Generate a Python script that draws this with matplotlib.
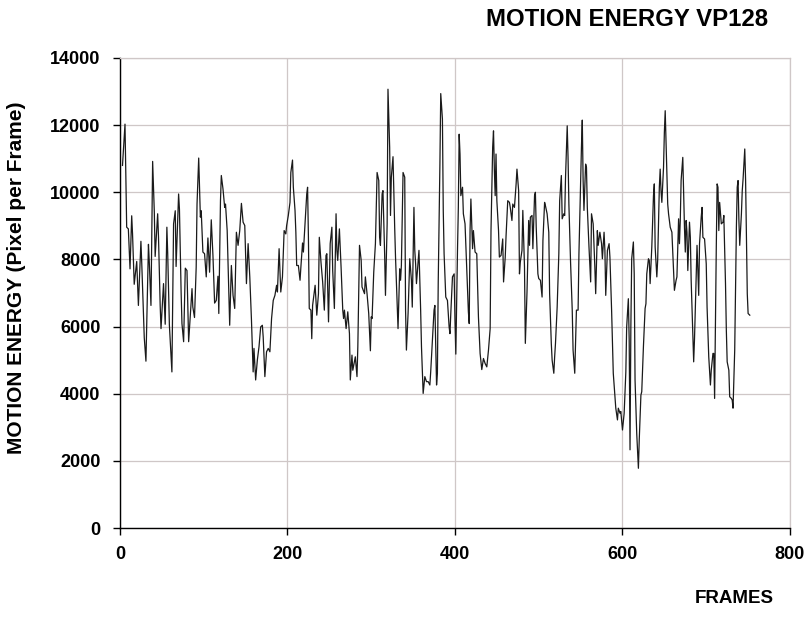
import numpy as np
import matplotlib
matplotlib.use('Agg')
import matplotlib.pyplot as plt

plt.rcParams['font.family'] = ['Liberation Sans', 'DejaVu Sans']

# values (frame, motion energy)
frames = [3, 6, 8, 10, 12, 14, 15, 17, 20, 22, 25, 26, 29, 31, 34, 35, 37, 39, 41, 42,
          45, 46, 48, 49, 52, 54, 56, 57, 59, 62, 64, 66, 67, 70, 71, 73, 74, 76, 78, 80,
          82, 86, 87, 89, 91, 92, 94, 96, 97, 99, 101, 103, 105, 107, 109, 111, 113, 115, 117, 118,
          120, 121, 123, 125, 126, 128, 131, 133, 135, 137, 139, 141, 143, 145, 147, 149, 151, 153, 155, 157,
          159, 160, 162, 164, 166, 168, 170, 171, 173, 175, 177, 179, 181, 183, 185, 187, 188, 190, 192, 194,
          196, 198, 199, 201, 203, 204, 206, 207, 209, 210, 211, 213, 215, 216, 218, 219, 221, 223, 224, 225,
          226, 228, 229, 230, 233, 235, 237, 238, 240, 242, 244, 246, 247, 249, 251, 253, 254, 256, 258, 259,
          260, 262, 264, 266, 267, 268, 270, 272, 274, 275, 277, 278, 281, 283, 284, 286, 288, 289, 292, 293,
          295, 297, 299, 300, 301, 303, 305, 307, 309, 310, 311, 313, 314, 316, 317, 319, 320, 322, 323, 324,
          326, 328, 329, 332, 334, 335, 336, 338, 340, 341, 342, 344, 346, 348, 349, 351, 352, 353, 354, 356,
          357, 359, 360, 362, 364, 366, 368, 370, 371, 373, 375, 376, 378, 379, 380, 382, 383, 385, 386, 387,
          389, 391, 393, 394, 395, 397, 399, 400, 401, 403, 404, 405, 406, 407, 409, 410, 412, 414, 416, 417,
          418, 419, 421, 422, 424, 426, 428, 430, 432, 434, 436, 438, 440, 442, 443, 445, 446, 447, 448, 449,
          450, 452, 453, 455, 457, 458, 460, 461, 463, 465, 466, 468, 469, 471, 473, 474, 476, 477, 478, 480,
          481, 483, 484, 486, 488, 489, 490, 492, 493, 495, 496, 497, 499, 500, 502, 504, 505, 507, 508, 510,
          512, 513, 515, 516, 518, 519, 520, 522, 524, 525, 527, 528, 530, 531, 532, 534, 535, 536, 538, 540,
          541, 543, 544, 545, 547, 548, 550, 551, 552, 553, 554, 556, 557, 558, 560, 562, 563, 565, 567, 568,
          570, 571, 573, 575, 576, 578, 579, 580, 582, 584, 585, 587, 589, 590, 592, 594, 595, 597, 598, 600,
          602, 604, 605, 607, 608, 609, 610, 611, 613, 614, 615, 617, 619, 620, 622, 623, 625, 627, 628, 629,
          631, 632, 633, 635, 637, 638, 639, 641, 642, 644, 645, 646, 647, 649, 650, 651, 653, 654, 655, 657,
          659, 661, 662, 664, 665, 667, 668, 669, 670, 672, 673, 674, 675, 676, 677, 678, 680, 681, 682, 684,
          685, 686, 688, 689, 691, 692, 694, 695, 696, 698, 700, 701, 703, 705, 706, 708, 709, 710, 712, 713,
          714, 715, 716, 718, 720, 721, 723, 724, 725, 727, 728, 730, 731, 732, 734, 736, 737, 738, 739, 740,
          742, 743, 744, 746, 747, 748, 749, 750, 752]
energy = [10800, 12030, 8960, 8910, 7720, 9300, 8760, 7260, 7940, 6630, 8540, 7890, 5670, 4970, 8450, 7920, 6630, 10920, 9410, 8090,
          9360, 8660, 6630, 5940, 7280, 6070, 8960, 8170, 6040, 4650, 9060, 9450, 7790, 9950, 9500, 7030, 6090, 5550, 7740, 7670,
          5550, 7130, 6580, 6270, 7770, 9650, 11020, 9260, 9450, 8220, 8170, 7480, 8640, 7620, 9180, 8120, 6700, 6780, 7500, 6390,
          9750, 10500, 10100, 9550, 9650, 8860, 6040, 7820, 6930, 6540, 8810, 8420, 8860, 9670, 9110, 9010, 7280, 8470, 7480, 6190,
          4650, 5350, 4410, 5000, 5400, 5990, 6040, 5690, 4510, 5250, 5350, 5250, 6240, 6780, 6930, 7230, 7030, 8320, 7030, 7480,
          8860, 8760, 9010, 9310, 9700, 10590, 10960, 10150, 9460, 8810, 7820, 7820, 7380, 7770, 8490, 8220, 9060, 9950, 10150, 8660,
          6540, 6490, 5640, 6630, 7230, 6340, 6980, 8660, 7920, 7330, 6490, 8120, 8170, 6140, 8470, 8960, 7670, 6540, 9360, 8270,
          7970, 8910, 7770, 6490, 6240, 6490, 5940, 6440, 5790, 4410, 5150, 4700, 5100, 4510, 5400, 8420, 7970, 7180, 6980, 7480,
          6980, 6390, 5280, 6290, 6240, 7620, 8470, 10590, 10350, 8660, 8420, 9950, 10050, 8170, 6930, 9060, 13070, 11340, 9310, 10450,
          11060, 8960, 8070, 5940, 7720, 7380, 7820, 10590, 10450, 6490, 5300, 6390, 8020, 7380, 6580, 9550, 8270, 7870, 7280, 7970,
          8270, 6490, 5400, 4010, 4510, 4360, 4360, 4260, 4650, 5600, 6490, 6630, 4260, 4600, 7330, 10840, 12940, 12180, 9460, 8170,
          6880, 6780, 5990, 5790, 6390, 7480, 7570, 6190, 5180, 8270, 9550, 11730, 11140, 9900, 10150, 9360, 9060, 7770, 6440, 6090,
          8860, 9800, 8320, 8860, 8220, 8170, 6290, 5200, 4720, 5050, 4900, 4800, 5300, 5940, 8860, 11340, 11830, 10690, 9900, 11140,
          9750, 8860, 8070, 8120, 8610, 7330, 8070, 8710, 9750, 9700, 9550, 9160, 9650, 9550, 10250, 10690, 10050, 7570, 7920, 8270,
          9460, 7770, 5500, 7030, 9160, 8420, 9260, 9310, 8320, 9900, 10000, 8960, 7570, 7430, 7380, 6880, 8560, 9700, 9600, 9360,
          8810, 6980, 5500, 5000, 4610, 5100, 5500, 6580, 8170, 9750, 10500, 9210, 9360, 9310, 10450, 11980, 11040, 9650, 7920, 6490,
          5300, 4610, 5600, 6490, 6490, 8170, 10250, 11340, 12150, 10350, 9460, 10840, 10740, 9550, 8370, 7330, 9360, 9060, 7770, 6980,
          8860, 8420, 8810, 8470, 8020, 8810, 8270, 6930, 8270, 8470, 8070, 6490, 4610, 4260, 3570, 3220, 3570, 3420, 3470, 2920,
          3420, 4650, 5990, 6830, 5600, 2330, 5990, 8020, 8520, 7570, 4410, 2820, 1780, 2620, 3960, 4060, 5400, 6540, 6680, 7570,
          8020, 7970, 7280, 8370, 9900, 10250, 8370, 7480, 7970, 10150, 10690, 10050, 9700, 10740, 11780, 12430, 10640, 9650, 9360, 8960,
          8810, 7670, 7080, 7380, 7480, 9210, 8470, 9160, 10350, 11040, 10050, 8960, 8220, 9160, 8810, 7670, 9110, 8660, 7380, 5790,
          4950, 5640, 7480, 8420, 6930, 8470, 9260, 9550, 8660, 8610, 7870, 6580, 5100, 4260, 4700, 5200, 5200, 3860, 8370, 10250,
          10150, 8860, 9700, 9060, 9110, 9310, 7280, 5890, 4950, 4700, 3910, 3860, 3810, 3570, 5300, 8960, 10150, 10350, 9160, 8420,
          9360, 10050, 10400, 11290, 10350, 8660, 6980, 6390, 6340]

x_ticks = [0, 200, 400, 600, 800]
y_ticks = [0, 2000, 4000, 6000, 8000, 10000, 12000, 14000]

fig = plt.figure(figsize=(8.09, 6.17), dpi=100)
ax = fig.add_axes([0.1483, 0.1442, 0.8282, 0.7618])

ax.plot(frames, energy, color='#1a1a1a', linewidth=0.9)

ax.set_xlim(0, 800)
ax.set_ylim(0, 14000)
ax.set_xticks(x_ticks)
ax.set_yticks(y_ticks)
ax.grid(True, color='#cfc7c7', linewidth=0.9)
ax.set_axisbelow(True)

for s in ['top', 'right']:
    ax.spines[s].set_color('#cfc7c7')
    ax.spines[s].set_linewidth(0.9)
for s in ['left', 'bottom']:
    ax.spines[s].set_color('black')
    ax.spines[s].set_linewidth(1.0)

ax.tick_params(axis='both', direction='out', length=5, width=1.0, color='black',
               labelsize=13, pad=8)
ax.tick_params(axis='y', pad=9)
for lab in ax.get_xticklabels() + ax.get_yticklabels():
    lab.set_fontweight('bold')

fig.text(0.949, 0.969, 'MOTION ENERGY VP128', ha='right', va='center',
         fontsize=17.3, fontweight='bold')
fig.text(0.957, 0.016, 'FRAMES', ha='right', va='bottom',
         fontsize=13.5, fontweight='bold')
fig.text(0.021, 0.55, 'MOTION ENERGY (Pixel per Frame)', rotation=90,
         ha='center', va='center', fontsize=15, fontweight='bold')

fig.savefig('out.png', dpi=100)
